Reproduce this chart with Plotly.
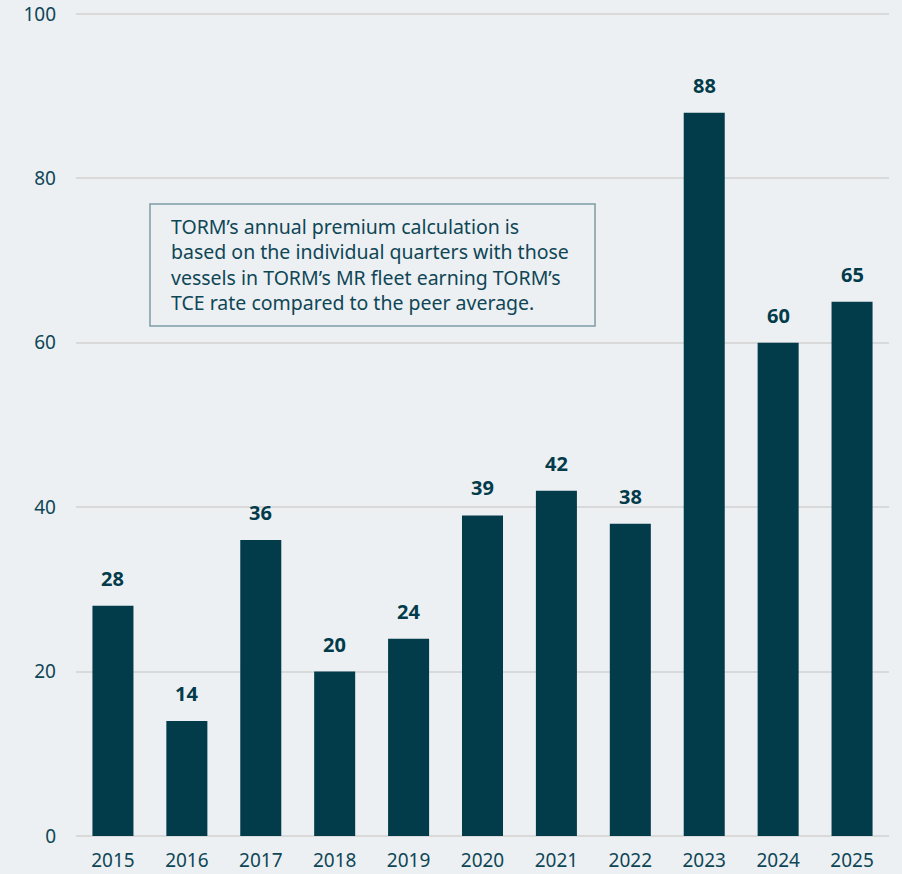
import plotly.graph_objects as go

# Annual premium per year
years = ["2015", "2016", "2017", "2018", "2019", "2020", "2021", "2022", "2023", "2024", "2025"]
premium = [28, 14, 36, 20, 24, 39, 42, 38, 88, 60, 65]
y_ticks = [0, 20, 40, 60, 80, 100]

BG = "#ECF0F3"
BAR = "#023B4A"
TEXT = "#0F4656"
FONT = "Noto Sans"

fig = go.Figure()
fig.add_trace(go.Bar(
    x=years,
    y=premium,
    marker=dict(color=BAR, line=dict(width=0)),
    hoverinfo="x+y",
))

# value labels above bars (category index positions)
for i, v in enumerate(premium):
    fig.add_annotation(
        x=i, y=v, xref="x", yref="y",
        text=f"<b>{v}</b>", showarrow=False,
        yanchor="bottom", yshift=12,
        font=dict(family=FONT, size=20, color=BAR),
    )

# explanatory note in a framed box
fig.add_shape(
    type="rect", xref="paper", yref="paper",
    x0=0.091, x1=0.6384, y0=0.619, y1=0.767,
    line=dict(color="#7E9CA5", width=1.5), fillcolor=BG, layer="above",
)
note = ("TORM’s annual premium calculation is<br>"
        "based on the individual quarters with those<br>"
        "vessels in TORM’s MR fleet earning TORM’s<br>"
        "TCE rate compared to the peer average.")
fig.add_annotation(
    xref="paper", yref="paper", x=0.1145, y=0.693,
    xanchor="left", yanchor="middle",
    text=note, showarrow=False, align="left",
    font=dict(family=FONT, size=19.5, color=TEXT),
)

fig.update_layout(
    width=902, height=874,
    margin=dict(l=76, r=13, t=12, b=38, autoexpand=False),
    paper_bgcolor=BG, plot_bgcolor=BG,
    bargap=0.445,
    showlegend=False,
    font=dict(family=FONT, size=19, color=TEXT),
)
fig.update_xaxes(
    type="category", categoryorder="array", categoryarray=years,
    range=[-0.5, len(years) - 0.5], automargin=False,
    showgrid=False, showline=False, zeroline=False,
    ticks="outside", ticklen=7, tickcolor="rgba(0,0,0,0)",
    tickfont=dict(family=FONT, size=19, color=TEXT),
)
fig.update_yaxes(
    range=[0, 100.25], tickvals=y_ticks, automargin=False,
    showgrid=True, gridcolor="#D9D9D9", gridwidth=1.5,
    zeroline=True, zerolinecolor="#D9D9D9", zerolinewidth=2,
    showline=False, ticks="", ticklabelstandoff=19,
    tickfont=dict(family=FONT, size=19, color=TEXT),
)

fig.write_html("out.html")
